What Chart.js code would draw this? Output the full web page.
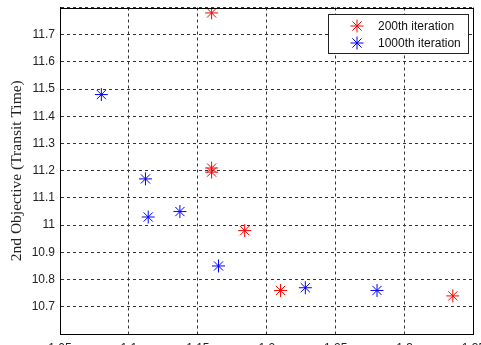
<!DOCTYPE html>
<html>
<head>
<meta charset="utf-8">
<script src="https://cdn.jsdelivr.net/npm/chart.js@4/dist/chart.umd.min.js"></script>
<style>
    html, body { margin: 0; padding: 0; background: #fff; }
    #wrap { width: 481px; height: 345px; }
</style>
</head>
<body>
<div id="wrap"><canvas id="chart" width="481" height="345"></canvas></div>
<script>
// values
const iter200X = [1.16, 1.16, 1.16, 1.184, 1.21, 1.335];
const iter200Y = [11.78, 11.21, 11.195, 10.98, 10.76, 10.74];
const iter1000X = [1.08, 1.112, 1.114, 1.137, 1.165, 1.228, 1.28];
const iter1000Y = [11.48, 11.17, 11.03, 11.05, 10.85, 10.77, 10.76];
const seriesNames = ['200th iteration', '1000th iteration'];
const seriesColors = ['#ff0000', '#0000ff'];
const yTitle = '2nd Objective (Transit Time)';

const toPoints = (xs, ys) => xs.map((x, i) => ({ x: x, y: ys[i] }));

// full box round the plot area, plus the legend inside it
const framePlugin = {
    id: 'frame',
    afterDraw(chart) {
        const { ctx, chartArea: a } = chart;
        ctx.save();
        ctx.strokeStyle = '#000';
        ctx.lineWidth = 1;
        ctx.setLineDash([]);
        ctx.strokeRect(Math.round(a.left) + 0.5, Math.round(a.top) + 0.5,
            Math.round(a.right - a.left) - 1, Math.round(a.bottom - a.top) - 1);

        // legend box
        const bx = 328, by = 14, bw = 140, bh = 39;
        ctx.fillStyle = '#fff';
        ctx.fillRect(bx, by, bw, bh);
        ctx.strokeStyle = '#222';
        ctx.strokeRect(bx + 0.5, by + 0.5, bw, bh);
        ctx.font = '12px "Liberation Sans", Arial, sans-serif';
        ctx.textBaseline = 'middle';
        ctx.textAlign = 'left';
        chart.data.datasets.forEach((ds, i) => {
            const cy = by + 12 + i * 17;
            ctx.strokeStyle = ds.borderColor;
            ctx.lineWidth = 1;
            Chart.helpers.drawPoint(ctx, { pointStyle: 'star', radius: 6.5, borderWidth: 1 }, bx + 29, cy);
            ctx.fillStyle = '#111';
            ctx.fillText(ds.label, bx + 50, cy + 1);
        });
        ctx.restore();
    }
};

const gridStyle = {
    color: '#333',
    lineWidth: 1,
    drawTicks: false
};

new Chart(document.getElementById('chart'), {
    type: 'scatter',
    data: {
        datasets: [
            {
                label: seriesNames[0],
                data: toPoints(iter200X, iter200Y),
                borderColor: seriesColors[0],
                backgroundColor: seriesColors[0],
                pointStyle: 'star',
                pointRadius: 6.5,
                pointBorderWidth: 1
            },
            {
                label: seriesNames[1],
                data: toPoints(iter1000X, iter1000Y),
                borderColor: seriesColors[1],
                backgroundColor: seriesColors[1],
                pointStyle: 'star',
                pointRadius: 6.5,
                pointBorderWidth: 1
            }
        ]
    },
    options: {
        responsive: false,
        animation: false,
        layout: { padding: { top: 7, right: 6, left: 0, bottom: 0 } },
        plugins: {
            legend: { display: false },
            tooltip: { enabled: false }
        },
        scales: {
            x: {
                type: 'linear',
                min: 1.05,
                max: 1.35,
                // in v4 border.dash is what dashes the grid lines
                border: { display: true, color: '#000', dash: [3, 3] },
                grid: gridStyle,
                ticks: {
                    stepSize: 0.05,
                    autoSkip: false,
                    maxRotation: 0,
                    padding: 7,
                    color: '#222',
                    font: { family: '"Liberation Sans", Arial, sans-serif', size: 12 },
                    callback: (v) => String(Number(v.toFixed(2)))
                },
                afterFit(scale) {
                    scale.height = 11;
                    scale.paddingLeft = 0;
                    scale.paddingRight = 0;
                }
            },
            y: {
                type: 'linear',
                min: 10.6,
                max: 11.8,
                border: { display: true, color: '#000', dash: [3, 3] },
                grid: gridStyle,
                ticks: {
                    stepSize: 0.1,
                    padding: 5,
                    color: '#222',
                    font: { family: '"Liberation Sans", Arial, sans-serif', size: 12 },
                    callback: (v) => {
                        const r = Math.round(v * 10) / 10;
                        if (r <= 10.6 || r >= 11.8) return '';
                        return String(r);
                    }
                },
                title: {
                    display: true,
                    text: yTitle,
                    color: '#222',
                    padding: { top: 8, bottom: 0 },
                    font: { family: '"Liberation Serif", "Times New Roman", serif', size: 15.5 }
                },
                afterFit(scale) {
                    scale.width = 60;
                    scale.paddingTop = 0;
                    scale.paddingBottom = 0;
                }
            }
        }
    },
    plugins: [framePlugin]
});
</script>
</body>
</html>
